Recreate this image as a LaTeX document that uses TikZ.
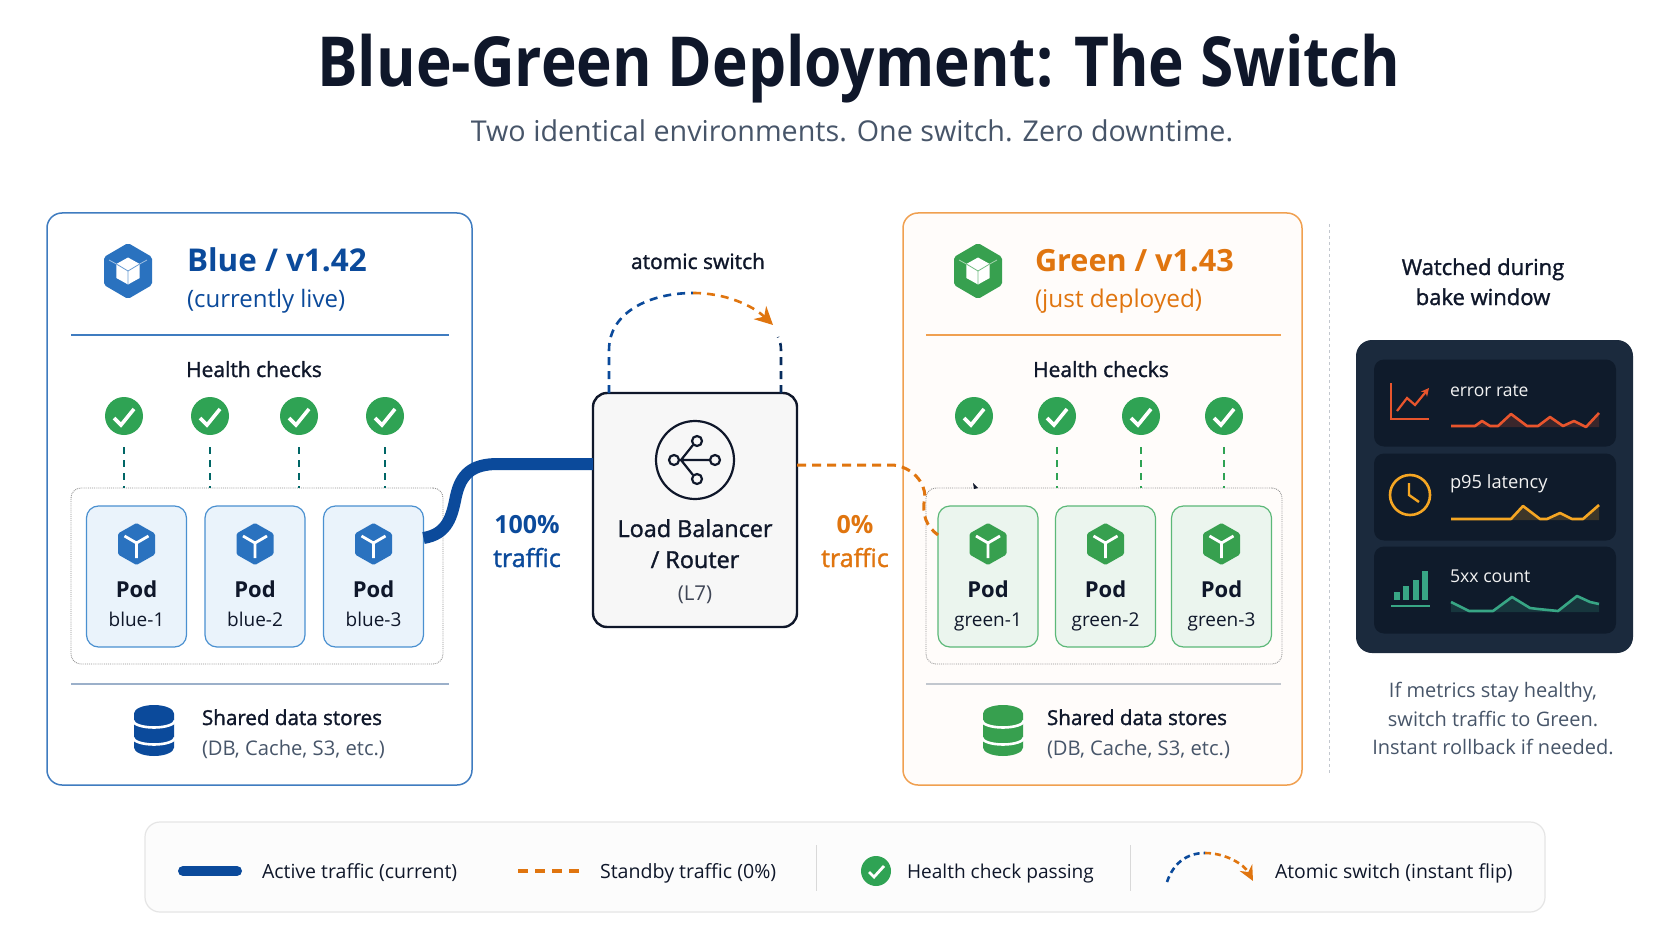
\documentclass[tikz,border=0pt]{standalone}
\usepackage{fontspec}
\setmainfont{Open Sans}
\newfontfamily\medfont[FakeBold=1.4]{Open Sans}
\newfontfamily\titlefont[FakeStretch=0.875]{Open Sans}
\usetikzlibrary{arrows.meta,calc}
\definecolor{inkdark}{HTML}{0F172A}
\definecolor{inkgray}{HTML}{475569}
\definecolor{blueline}{HTML}{0B4A9B}
\definecolor{bluehex}{HTML}{2A72BF}
\definecolor{blueedge}{HTML}{3F7CC0}
\definecolor{podblue}{HTML}{EAF3FB}
\definecolor{podblueedge}{HTML}{4A90D0}
\definecolor{orangeline}{HTML}{E0750F}
\definecolor{orangeedge}{HTML}{F0A050}
\definecolor{greenok}{HTML}{2FA354}
\definecolor{greenhex}{HTML}{37A04F}
\definecolor{podgreen}{HTML}{EBF5EE}
\definecolor{podgreenedge}{HTML}{5CB878}
\definecolor{grayline}{HTML}{C2C7CE}
\definecolor{cardbg}{HTML}{1B2A3D}
\definecolor{rowbg}{HTML}{0F1B2B}
\definecolor{sparkred}{HTML}{E8552D}
\definecolor{sparkamber}{HTML}{F5A623}
\definecolor{sparkteal}{HTML}{38A685}
\tikzset{
  txt/.style={inner sep=0, outer sep=0, anchor=base, text=inkdark},
  txtl/.style={txt, anchor=base west},
  panel/.style={draw, rounded corners=15pt, line width=1.5pt, minimum width=#1, minimum height=572pt, outer sep=0},
  podgroup/.style={draw=gray!85, densely dotted, line width=.9pt, rounded corners=10pt, minimum height=176pt, outer sep=0},
  pod/.style={draw, rounded corners=12pt, line width=1.2pt, minimum width=100pt, minimum height=141pt, outer sep=0},
  okdot/.style={circle, fill=greenok, minimum size=38pt, inner sep=0, outer sep=0},
  oktick/.style={white, line width=3.6pt},
  hcdash/.style={line width=1.3pt, dash pattern=on 7pt off 6pt},
  rowbox/.style={fill=rowbg, rounded corners=10pt, minimum width=242pt, minimum height=87pt, inner sep=0, outer sep=0},
  arcdash/.style={line width=2.6pt, dash pattern=on 8pt off 6pt},
  arctip/.style={-{Stealth[length=18pt,width=18pt]}}
}
\newcommand{\checkdot}[3]{%
  \node[okdot] (#1) at (#2,#3) {};
  \draw[oktick] (#1.center) ++(-10,2) -- ++(7,7) -- ++(13,-16);
}
\newcommand{\podhex}[3]{%
  \fill[#3, rounded corners=1.5pt, shift={(#1,#2)}] (0,-21) -- (18.5,-10.5) -- (18.5,10.5) -- (0,21) -- (-18.5,10.5) -- (-18.5,-10.5) -- cycle;
  \draw[white, line width=2.8pt, shift={(#1,#2)}] (-12,-8) -- (0,-1) -- (12,-8) (0,-1) -- (0,14);
}
\newcommand{\bighex}[4]{%
  \fill[#3, rounded corners=2pt, shift={(#1,#2)}] (0,-28) -- (24,-14) -- (24,14) -- (0,28) -- (-24,14) -- (-24,-14) -- cycle;
  \draw[white, opacity=.55, line width=.8pt, shift={(#1,#2)}] (-19,-11) -- (-11.7,-7) (19,-11) -- (11.7,-7);
  \fill[white, shift={(#1,#2)}] (0,-13.5) -- (11.7,-7) -- (11.7,7) -- (0,13.5) -- (-11.7,7) -- (-11.7,-7) -- cycle;
  \draw[#4!70!white, line width=.8pt, shift={(#1,#2)}] (-11.7,-7) -- (0,0) -- (11.7,-7) (0,0) -- (0,13.5);
}
\newcommand{\dbicon}[3]{%
  \fill[#3, shift={(#1,#2)}] (-20,-17) arc[start angle=180, end angle=0, x radius=20pt, y radius=8.5pt] -- (20,17) arc[start angle=360, end angle=180, x radius=20pt, y radius=8.5pt] -- cycle;
  \draw[white, line width=2.6pt, shift={(#1,#2)}] (-21,-10) arc[start angle=180, end angle=360, x radius=21pt, y radius=7pt];
  \draw[white, line width=2.6pt, shift={(#1,#2)}] (-21,7) arc[start angle=180, end angle=360, x radius=21pt, y radius=7pt];
}
\newcommand{\sparkline}[5]{%
  \fill[#1, opacity=.2] (#3,#2) -- #5 -- (#4,#2) -- cycle;
  \draw[#1, line width=2.6pt, line join=round] #5;
}
\begin{document}
\begin{tikzpicture}[x=1pt, y=-1pt]
      \useasboundingbox[fill=white] (0,0) rectangle (1672,941);
      % heading
      \node[txt, font=\titlefont\bfseries\fontsize{69}{69}\selectfont] (title) at (859,87) {Blue-Green Deployment: The Switch};
      \node[txt, text=inkgray, font=\fontsize{28.7}{29}\selectfont] (subtitle) at (852,142) {Two identical environments. One switch. Zero downtime.};
      % blue side
      \node[panel=425pt, draw=blueedge, fill=white] (panel_blue) at (259.5,499) {};
      \bighex{128}{271}{bluehex}{bluehex}
      \node[txtl, text=blueline, font=\bfseries\fontsize{31.4}{32}\selectfont] (blue_head) at (187,271) {Blue / v1.42};
      \node[txtl, text=blueline, font=\fontsize{24}{24}\selectfont] (blue_sub) at (187,307) {(currently live)};
      \draw[blueedge, line width=1.2pt] (71,335) -- (449,335);
      \node[txt, font=\medfont\fontsize{21}{21}\selectfont] (blue_hc) at (254,377) {Health checks};
      \node[podgroup, minimum width=372pt] (group_blue) at (257,576) {};
      \foreach \i/\cx in {1/124,2/210,3/299,4/385} {
        \checkdot{chk_b\i}{\cx}{416}
        \coordinate (top_b\i) at (\cx,488);
        \draw[hcdash, draw=teal!80!black] (chk_b\i) ++(0,31) -- (top_b\i);
      }
      \foreach \i/\cx in {1/136.5,2/255,3/373.5} {
        \node[pod, draw=podblueedge, fill=podblue] (pod_b\i) at (\cx,576.5) {};
        \podhex{\cx}{544}{bluehex}
        \node[txt, font=\bfseries\fontsize{22}{22}\selectfont] (pod_b\i_name) at (\cx,597) {Pod};
        \node[txt, font=\fontsize{19}{19}\selectfont] (pod_b\i_id) at (\cx,626) {blue-\i};
      }
      \draw[grayline!70!blueedge, line width=1.2pt] (71,684) -- (449,684);
      \dbicon{154}{730.5}{blueline}
      \node[txtl, font=\medfont\fontsize{20.6}{21}\selectfont] (blue_db) at (202,725) {Shared data stores};
      \node[txtl, text=inkgray, font=\fontsize{20.2}{21}\selectfont] (blue_db_sub) at (202,755) {(DB, Cache, S3, etc.)};
      % green side
      \node[panel=399pt, draw=orangeedge, fill=orange!2] (panel_green) at (1102.5,499) {};
      \bighex{978}{271}{greenhex}{greenhex}
      \node[txtl, text=orangeline, font=\bfseries\fontsize{30.6}{31}\selectfont] (green_head) at (1035,271) {Green / v1.43};
      \node[txtl, text=orangeline, font=\fontsize{24.4}{25}\selectfont] (green_sub) at (1035,307) {(just deployed)};
      \draw[orangeedge, line width=1.2pt] (926,335) -- (1281,335);
      \node[txt, font=\medfont\fontsize{21}{21}\selectfont] (green_hc) at (1101,377) {Health checks};
      \node[podgroup, minimum width=356pt] (group_green) at (1104,576) {};
      \checkdot{chk_g1}{974}{416}
      \fill[inkdark] (973,483) -- (978,488) -- (974,489) -- cycle;
      \foreach \i/\cx in {2/1057,3/1141,4/1224} {
        \checkdot{chk_g\i}{\cx}{416}
        \coordinate (top_g\i) at (\cx,488);
        \draw[hcdash, draw=greenok] (chk_g\i) ++(0,31) -- (top_g\i);
      }
      \foreach \i/\cx in {1/988,2/1105.5,3/1221.5} {
        \node[pod, draw=podgreenedge, fill=podgreen] (pod_g\i) at (\cx,576.5) {};
        \podhex{\cx}{544}{greenhex}
        \node[txt, font=\bfseries\fontsize{22}{22}\selectfont] (pod_g\i_name) at (\cx,597) {Pod};
        \node[txt, font=\fontsize{19}{19}\selectfont] (pod_g\i_id) at (\cx,626) {green-\i};
      }
      \draw[grayline, line width=1.2pt] (926,684) -- (1281,684);
      \dbicon{1003}{730.5}{greenhex}
      \node[txtl, font=\medfont\fontsize{20.6}{21}\selectfont] (green_db) at (1047,725) {Shared data stores};
      \node[txtl, text=inkgray, font=\fontsize{20.2}{21}\selectfont] (green_db_sub) at (1047,755) {(DB, Cache, S3, etc.)};
      % load balancer
      \node[draw=inkdark, fill=black!3, rounded corners=14pt, line width=2.4pt, minimum width=204pt, minimum height=234pt, outer sep=0] (lb) at (695,510) {};
      \node[draw=inkdark, circle, line width=2.2pt, minimum size=78pt, inner sep=0] (lb_ring) at (695,460) {};
      \draw[inkdark, line width=2.2pt] (679,460) -- (710,460) (681,460) -- (693,445) (681,460) -- (693,475);
      \foreach \n/\px/\py in {hub/674/460,up/697/441,right/715/460,down/697/479}
        \node[draw=inkdark, fill=black!3, circle, line width=2.2pt, minimum size=10pt, inner sep=0] (lb_\n) at (\px,\py) {};
      \node[txt, font=\medfont\fontsize{23.4}{24}\selectfont] (lb_name) at (695,537) {Load Balancer};
      \node[txt, font=\medfont\fontsize{23.4}{24}\selectfont] (lb_name2) at (695,568) {/ Router};
      \node[txt, text=inkdark!80, font=\fontsize{20.5}{21}\selectfont] (lb_l7) at (695,600) {(L7)};
      % traffic links
      \coordinate (lb_in) at (593,464);
      \coordinate (lb_out) at (797,465);
      \draw[blueline, line width=12pt] (pod_b3.east |- 0,538) .. controls (448,534) and (452,516) .. (456,496) .. controls (461,474) and (472,464) .. (498,464) -- (lb_in);
      \draw[orangeline, line width=3pt, dash pattern=on 9pt off 6pt] (lb_out) -- (893,465) .. controls (912,467) and (925,482) .. (925,497) .. controls (921,515) and (927,527) .. (pod_g1.west |- 0,535);
      \node[txt, text=blueline, font=\bfseries\fontsize{25}{25}\selectfont] (pct_blue) at (527,533) {100\%};
      \node[txt, text=blueline, font=\medfont\fontsize{25}{25}\selectfont] (traffic_blue) at (527,567) {traffic};
      \node[txt, text=orangeline, font=\bfseries\fontsize{25}{25}\selectfont] (pct_green) at (855,533) {0\%};
      \node[txt, text=orangeline, font=\medfont\fontsize{25}{25}\selectfont] (traffic_green) at (855,567) {traffic};
      % switch arc
      \node[txt, font=\medfont\fontsize{21}{21}\selectfont] (switch_lbl) at (698,269) {atomic switch};
      \coordinate (sw_left) at (609,393);
      \coordinate (sw_top) at (693,293);
      \coordinate (sw_tip) at (773,325);
      \coordinate (sw_right) at (781,393);
      \draw[arcdash, blueline] (sw_left) -- (609,350) .. controls (609,312) and (650,293) .. (sw_top);
      \draw[arcdash, orangeline, arctip] (sw_top) .. controls (725,293) and (752,305) .. (sw_tip);
      \draw[arcdash, blueline!60!black] (sw_right) -- (781,350) .. controls (781,345) and (780,341) .. (778,337);
      % watched panel
      \draw[grayline, line width=1pt, dashed] (1329,224) -- (1329,774);
      \node[txt, font=\medfont\fontsize{22}{22}\selectfont] (watch_1) at (1483,275) {Watched during};
      \node[txt, font=\medfont\fontsize{22}{22}\selectfont] (watch_2) at (1483,305) {bake window};
      \node[fill=cardbg, rounded corners=16pt, minimum width=277pt, minimum height=313pt, outer sep=0] (card) at (1494.5,496.5) {};
      \foreach \i/\cy in {1/403,2/497,3/590}
        \node[rowbox] (row_\i) at (1495,\cy) {};
      \node[txtl, text=white!90!gray, font=\fontsize{17.5}{17.5}\selectfont] (metric_err) at (1450,396) {error rate};
      \node[txtl, text=white!90!gray, font=\fontsize{18.3}{18.3}\selectfont] (metric_p95) at (1450,488) {p95 latency};
      \node[txtl, text=white!90!gray, font=\fontsize{17.7}{17.7}\selectfont] (metric_5xx) at (1450,582) {5xx count};
      % metric icons
      \draw[sparkred, line width=1.8pt] (1391,383) -- (1391,419) -- (1429,419);
      \draw[sparkred, line width=2.2pt, -{Stealth[length=8pt,width=8pt]}] (1397,411) -- (1407,398) -- (1415,405) -- (1429,388);
      \draw[sparkamber, line width=2.6pt] (1410,495) circle[radius=20pt];
      \draw[sparkamber, line width=2.4pt] (1409,483) -- (1409,495) -- (1419,502);
      \foreach \bx/\btop in {1394/592,1403/586,1413/580,1422/571}
        \fill[sparkteal] (\bx,\btop) rectangle ++(6,600-\btop);
      \draw[sparkteal, line width=2pt] (1391,606) -- (1430,606);
      % sparklines
      \sparkline{sparkred}{427}{1451}{1599}{(1451,426) -- (1475,426) -- (1482,421) -- (1490,426) -- (1498,426) -- (1511,414) -- (1527,426) -- (1538,426) -- (1550,417) -- (1563,426) -- (1574,421) -- (1586,427) -- (1599,413)}
      \sparkline{sparkamber}{520}{1451}{1599}{(1451,519) -- (1511,519) -- (1523,506) -- (1540,519) -- (1547,519) -- (1560,513) -- (1572,519) -- (1583,519) -- (1599,505)}
      \sparkline{sparkteal}{612}{1451}{1599}{(1451,602) -- (1469,611) -- (1493,611) -- (1512,597) -- (1530,608) -- (1538,609) -- (1558,611) -- (1577,596) -- (1590,602) -- (1599,604)}
      % caption
      \node[txt, text=inkgray, font=\fontsize{20}{20}\selectfont] (note_1) at (1493,697) {If metrics stay healthy,};
      \node[txt, text=inkgray, font=\fontsize{20}{20}\selectfont] (note_2) at (1493,726) {switch traffic to Green.};
      \node[txt, text=inkgray, font=\fontsize{20}{20}\selectfont] (note_3) at (1493,754) {Instant rollback if needed.};
      % legend
      \node[draw=black!10, fill=black!1, rounded corners=15pt, line width=1.2pt, minimum width=1400pt, minimum height=90pt, outer sep=0] (legend) at (845,867) {};
      \coordinate (leg_a1) at (183,871);
      \coordinate (leg_a2) at (237,871);
      \draw[blueline, line width=10pt, line cap=round] (leg_a1) -- (leg_a2);
      \node[txtl, font=\fontsize{19.5}{20}\selectfont] (leg_active) at (262,878) {Active traffic (current)};
      \coordinate (leg_s1) at (518,871);
      \coordinate (leg_s2) at (579,871);
      \draw[orangeline, line width=3.2pt, dash pattern=on 10pt off 7pt] (leg_s1) -- (leg_s2);
      \node[txtl, font=\fontsize{19.6}{20}\selectfont] (leg_standby) at (600,878) {Standby traffic (0\%)};
      \draw[black!15, line width=1pt] (816,845) -- (816,891);
      \node[okdot, minimum size=30pt] (leg_ok) at (876,871) {};
      \draw[oktick, line width=2.8pt] (leg_ok.center) ++(-7,1) -- ++(5,5) -- ++(10,-11);
      \node[txtl, font=\fontsize{19.1}{20}\selectfont] (leg_health) at (907,878) {Health check passing};
      \draw[black!15, line width=1pt] (1130,845) -- (1130,891);
      \coordinate (leg_sw1) at (1167,882);
      \coordinate (leg_sw2) at (1205,853);
      \coordinate (leg_sw3) at (1253,881);
      \draw[arcdash, blueline, dash pattern=on 6pt off 4pt] (leg_sw1) .. controls (1173,864) and (1186,853) .. (leg_sw2);
      \draw[arcdash, orangeline, dash pattern=on 6pt off 4pt, -{Stealth[length=15pt,width=14pt]}] (leg_sw2) .. controls (1225,853) and (1244,864) .. (leg_sw3);
      \node[txtl, font=\fontsize{19.4}{20}\selectfont] (leg_switch) at (1275,878) {Atomic switch (instant flip)};
    \end{tikzpicture}
\end{document}
